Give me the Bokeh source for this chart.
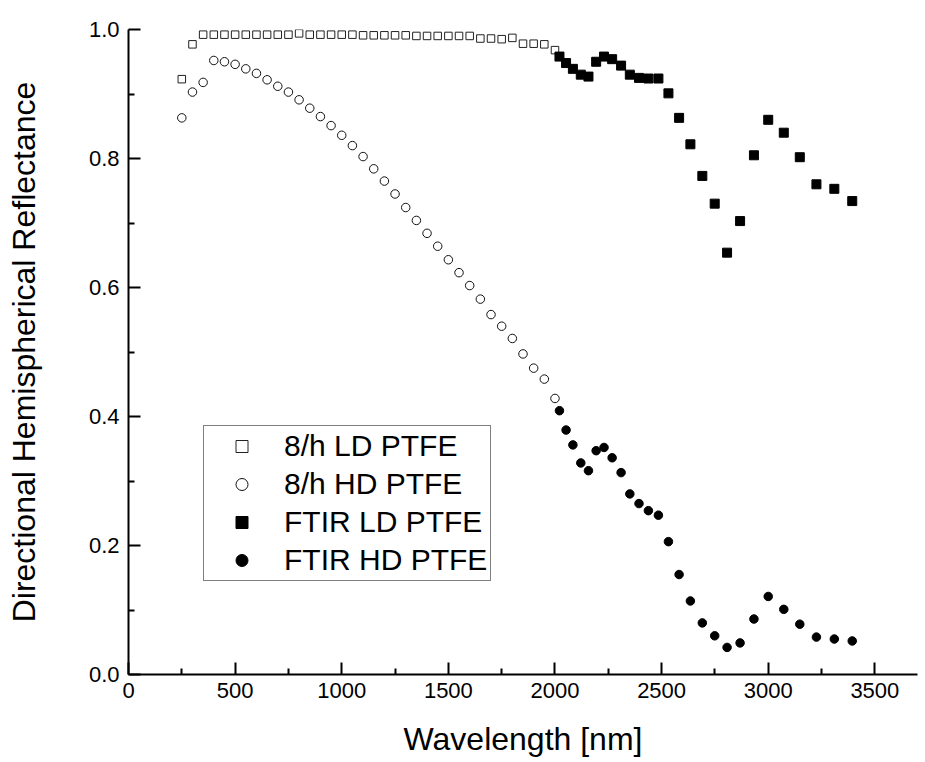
from bokeh.plotting import figure
from bokeh.models import FixedTicker, Range1d, Legend, LegendItem, PrintfTickFormatter
from bokeh.embed import file_html
from bokeh.resources import INLINE

# ---- data ----
vis_wavelength = [250, 300, 350, 400, 450, 500, 550, 600, 650, 700, 750, 800, 850, 900,
                  950, 1000, 1050, 1100, 1150, 1200, 1250, 1300, 1350, 1400, 1450, 1500,
                  1550, 1600, 1650, 1700, 1750, 1800, 1850, 1900, 1950, 2000]
vis_ld = [0.923, 0.977, 0.992, 0.992, 0.992, 0.992, 0.992, 0.992, 0.992, 0.992, 0.992,
          0.994, 0.992, 0.992, 0.992, 0.992, 0.992, 0.991, 0.991, 0.991, 0.991, 0.991,
          0.990, 0.990, 0.990, 0.990, 0.990, 0.990, 0.986, 0.986, 0.985, 0.987,
          0.978, 0.978, 0.977, 0.968]
vis_hd = [0.863, 0.903, 0.918, 0.952, 0.950, 0.946, 0.939, 0.932, 0.922, 0.912, 0.903,
          0.891, 0.878, 0.865, 0.851, 0.836, 0.820, 0.803, 0.784, 0.765, 0.745, 0.724,
          0.704, 0.684, 0.664, 0.643, 0.623, 0.603, 0.582, 0.558, 0.540, 0.521,
          0.497, 0.475, 0.458, 0.428]

ftir_wavelength = [2021, 2052, 2084, 2121, 2157, 2193, 2230, 2268, 2310, 2351, 2394, 2438,
                   2485, 2532, 2582, 2635, 2691, 2749, 2807, 2868, 2933, 3000, 3073, 3148,
                   3226, 3310, 3394]
ftir_ld = [0.958, 0.948, 0.939, 0.930, 0.927, 0.950, 0.958, 0.954, 0.944, 0.930, 0.925,
           0.924, 0.924, 0.901, 0.863, 0.822, 0.773, 0.730, 0.654, 0.703, 0.805, 0.860,
           0.840, 0.802, 0.760, 0.753, 0.734]
ftir_hd = [0.409, 0.379, 0.356, 0.328, 0.316, 0.347, 0.352, 0.336, 0.313, 0.280, 0.265,
           0.254, 0.247, 0.206, 0.155, 0.114, 0.080, 0.060, 0.042, 0.049, 0.086, 0.121,
           0.101, 0.078, 0.058, 0.055, 0.052]

series_labels = ["8/h LD PTFE", "8/h HD PTFE", "FTIR LD PTFE", "FTIR HD PTFE"]

x_ticks = [0, 500, 1000, 1500, 2000, 2500, 3000, 3500]
x_minor = [250, 750, 1250, 1750, 2250, 2750, 3250]
y_ticks = [0.0, 0.2, 0.4, 0.6, 0.8, 1.0]
y_minor = [0.1, 0.3, 0.5, 0.7, 0.9]

FONT = "Liberation Sans"

p = figure(width=920, height=761, output_backend="svg", toolbar_location=None,
           x_range=Range1d(0, 3700), y_range=Range1d(0, 1.0),
           min_border_left=128, min_border_right=3, min_border_top=29, min_border_bottom=87,
           x_axis_label="Wavelength [nm]",
           y_axis_label="Directional Hemispherical Reflectance")
p.outline_line_color = None
p.xgrid.visible = False
p.ygrid.visible = False
p.background_fill_color = "white"
p.border_fill_color = "white"

r1 = p.scatter(vis_wavelength, vis_ld, marker="square", size=7.5, fill_color="white",
               line_color="#222222", line_width=1)
r2 = p.scatter(vis_wavelength, vis_hd, marker="circle", size=8.5, fill_color="white",
               line_color="#111111", line_width=1)
r3 = p.scatter(ftir_wavelength, ftir_ld, marker="square", size=9, fill_color="black",
               line_color="black", line_width=1)
r4 = p.scatter(ftir_wavelength, ftir_hd, marker="circle", size=8.5, fill_color="black",
               line_color="black", line_width=1)

for ax in (p.xaxis[0], p.yaxis[0]):
    ax.axis_line_width = 2
    ax.axis_line_color = "black"
    ax.major_tick_line_width = 2
    ax.minor_tick_line_width = 2
    ax.major_tick_in = 12
    ax.major_tick_out = 0
    ax.minor_tick_in = 6
    ax.minor_tick_out = 0
    ax.major_label_text_font = FONT
    ax.major_label_text_font_size = "22px"
    ax.major_label_text_color = "black"
    ax.axis_label_text_font = FONT
    ax.axis_label_text_font_size = "32px"
    ax.axis_label_text_font_style = "normal"
    ax.axis_label_text_color = "black"

p.xaxis.ticker = FixedTicker(ticks=x_ticks, minor_ticks=x_minor)
p.yaxis.ticker = FixedTicker(ticks=y_ticks, minor_ticks=y_minor)
p.yaxis.formatter = PrintfTickFormatter(format="%.1f")
p.xaxis.major_label_standoff = 8
p.xaxis.axis_label_standoff = 20
p.yaxis.major_label_standoff = 9
p.yaxis.axis_label_standoff = 44

legend = Legend(items=[LegendItem(label=series_labels[0], renderers=[r1]),
                       LegendItem(label=series_labels[1], renderers=[r2]),
                       LegendItem(label=series_labels[2], renderers=[r3]),
                       LegendItem(label=series_labels[3], renderers=[r4])],
                location=(75, 93))
legend.border_line_color = "black"
legend.border_line_width = 1
legend.background_fill_color = "white"
legend.background_fill_alpha = 1
legend.padding = 3
legend.margin = 0
legend.glyph_width = 69
legend.glyph_height = 30
legend.label_height = 30
legend.spacing = 4
legend.label_standoff = 8
legend.label_text_font = FONT
legend.label_text_font_size = "30px"
legend.label_text_color = "black"
p.add_layout(legend, "center")

open("out.html", "w").write(file_html(p, INLINE))
